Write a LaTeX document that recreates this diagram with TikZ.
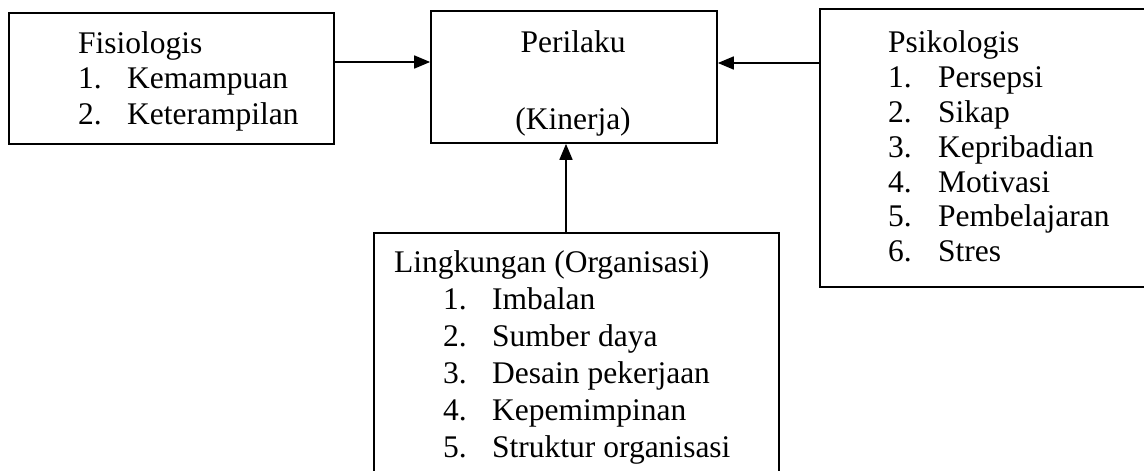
\documentclass[tikz,border=0pt]{standalone}
\usepackage{fontspec}
\setmainfont{Liberation Serif}
\usetikzlibrary{arrows.meta}
\begin{document}
\begin{tikzpicture}[x=1pt,y=-1pt,
  box/.style={draw,line width=1.7pt,rectangle,inner sep=0pt},
  txt/.style={anchor=base west,inner sep=0pt,font=\fontsize{31.5}{36}\selectfont},
  ctxt/.style={anchor=base,inner sep=0pt,font=\fontsize{31.5}{36}\selectfont},
  arr/.style={line width=1.7pt,-{Triangle[length=16pt,width=13pt]}}]
\useasboundingbox (0,0) rectangle (1144,471);
\clip (0,0) rectangle (1144,471);
% boxes
\node[box,minimum width=325pt,minimum height=131pt] (fis) at (171.5,78.5) {};
\node[box,minimum width=286pt,minimum height=132pt] (per) at (574,77) {};
\node[box,minimum width=360pt,minimum height=278pt] (psy) at (1000,148) {};
\node[box,minimum width=405pt,minimum height=300pt] (lin) at (576.5,383) {};
% Fisiologis
\node[txt] (f0) at (78,53) {Fisiologis};
\node[txt] (f1n) at (78,88.5) {1.};
\node[txt] (f1) at (127,88.5) {Kemampuan};
\node[txt] (f2n) at (78,124) {2.};
\node[txt] (f2) at (127,124) {Keterampilan};
% Perilaku
\node[ctxt] (p0) at (573,52) {Perilaku};
\node[ctxt] (p1) at (573,129) {(Kinerja)};
% Psikologis
\node[txt] (s0) at (888,52) {Psikologis};
\node[txt] (s1n) at (888,87) {1.};
\node[txt] (s1) at (938,87) {Persepsi};
\node[txt] (s2n) at (888,122) {2.};
\node[txt] (s2) at (938,122) {Sikap};
\node[txt] (s3n) at (888,157) {3.};
\node[txt] (s3) at (938,157) {Kepribadian};
\node[txt] (s4n) at (888,192) {4.};
\node[txt] (s4) at (938,192) {Motivasi};
\node[txt] (s5n) at (888,226.5) {5.};
\node[txt] (s5) at (938,226.5) {Pembelajaran};
\node[txt] (s6n) at (888,261) {6.};
\node[txt] (s6) at (938,261) {Stres};
% Lingkungan
\node[txt] (l0) at (394,272) {Lingkungan (Organisasi)};
\node[txt] (l1n) at (443,309) {1.};
\node[txt] (l1) at (492,309) {Imbalan};
\node[txt] (l2n) at (443,346) {2.};
\node[txt] (l2) at (492,346) {Sumber daya};
\node[txt] (l3n) at (443,383) {3.};
\node[txt] (l3) at (492,383) {Desain pekerjaan};
\node[txt] (l4n) at (443,420) {4.};
\node[txt] (l4) at (492,420) {Kepemimpinan};
\node[txt] (l5n) at (443,457) {5.};
\node[txt] (l5) at (492,457) {Struktur organisasi};
% connectors
\coordinate (fa) at (fis.east |- 0,62);
\draw[arr] (fa) -- (fa -| per.west);
\coordinate (pa) at (psy.west |- 0,63);
\draw[arr] (pa) -- (pa -| per.east);
\coordinate (la) at (566,0 |- lin.north);
\draw[arr] (la) -- (la |- per.south);
\end{tikzpicture}
\end{document}
